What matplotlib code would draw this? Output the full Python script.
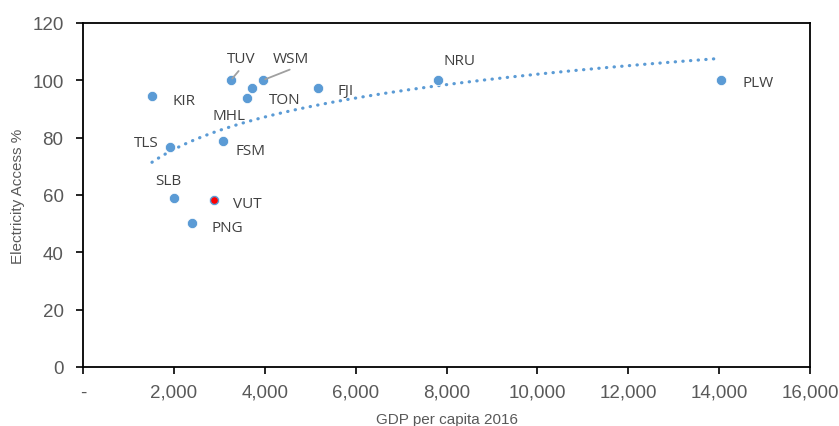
import numpy as np
import matplotlib.pyplot as plt

countries = ['KIR', 'TLS', 'SLB', 'VUT', 'PNG', 'FSM', 'MHL', 'TON', 'TUV', 'WSM', 'FJI', 'NRU', 'PLW']
gdp = [1518, 1921, 2009, 2889, 2405, 3081, 3609, 3713, 3257, 3968, 5178, 7806, 14040]
access = [94.4, 76.8, 59.1, 58.1, 50.1, 78.8, 93.7, 97.3, 100.1, 100.1, 97.3, 100.2, 100.1]

# label offsets in points (dx, dy) relative to the marker
offsets = {
    'KIR': (23, -3), 'TLS': (-17, 3), 'SLB': (-4, 12.5), 'VUT': (24, -2),
    'PNG': (25, -3), 'FSM': (20, -7), 'MHL': (-13, -12.5), 'TON': (23.5, -8.5),
    'TUV': (7, 15.5), 'WSM': (20, 15.5), 'FJI': (19.5, -2), 'NRU': (16, 14),
    'PLW': (26.5, -2),
}
# leader line start (offset points) for labels that point to their marker
leaders = {'TUV': (5.5, 6.5), 'WSM': (19, 7.5)}

fig = plt.figure(figsize=(8.39, 4.27), dpi=100)
ax = fig.add_axes([83 / 839, 59 / 427, 727 / 839, 344 / 427])

blue = '#5B9BD5'
ax.scatter(gdp, access, s=54, color=blue, zorder=3, edgecolors='white', linewidths=0.5)
vi = countries.index('VUT')
ax.scatter([gdp[vi]], [access[vi]], s=14, color='red', zorder=4)

# logarithmic trendline
coef = np.polyfit(np.log(gdp), access, 1)
xt = np.linspace(min(gdp), max(gdp), 300)
ax.plot(xt, coef[0] * np.log(xt) + coef[1], color=blue, lw=2.3,
        linestyle=(0, (0.1, 2.3)), dash_capstyle='round', zorder=2)

for c, x, y in zip(countries, gdp, access):
    dx, dy = offsets[c]
    ax.annotate(c, (x, y), xytext=(dx, dy), textcoords='offset points',
                ha='center', va='center', fontsize=11, color='#404040',
                family='Open Sans')
    if c in leaders:
        lx, ly = leaders[c]
        ax.annotate('', (x, y), xytext=(lx, ly), textcoords='offset points',
                    arrowprops=dict(arrowstyle='-', color='#a0a0a0', lw=1.3,
                                    shrinkA=0, shrinkB=1.5))

ax.set_xlim(0, 16000)
ax.set_ylim(0, 120)
ax.set_xticks(range(0, 16001, 2000))
ax.set_xticklabels(['-'] + [f'{v:,}' for v in range(2000, 16001, 2000)])
ax.set_yticks(range(0, 121, 20))
for s in ax.spines.values():
    s.set_color('black')
    s.set_linewidth(1.3)
ax.tick_params(direction='out', length=5, width=1.2, colors='black',
               labelcolor='#595959', labelsize=13.5)
for lab in ax.get_xticklabels() + ax.get_yticklabels():
    lab.set_family('Liberation Sans')
ax.tick_params(axis='x', pad=7)
ax.tick_params(axis='y', pad=9)

ax.set_xlabel('GDP per capita 2016', fontsize=11, color='#595959',
              family='Liberation Sans', labelpad=8)
ax.set_ylabel('Electricity Access %', fontsize=11, color='#595959',
              family='Liberation Sans', labelpad=5)

fig.savefig('out.png', dpi=100)
